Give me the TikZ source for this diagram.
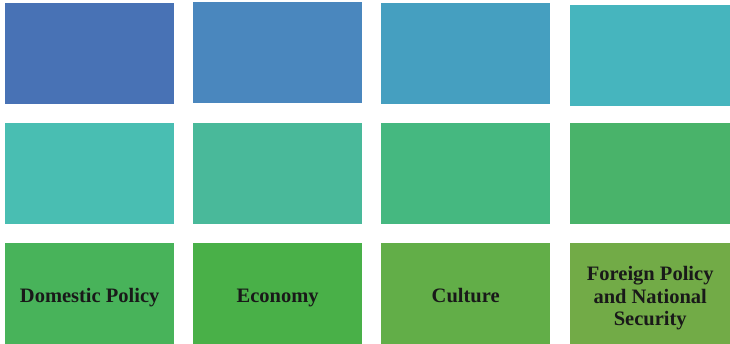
\documentclass[tikz,border=0pt]{standalone}
\usepackage{fontspec}
\setmainfont{Liberation Serif}
\begin{document}
\begin{tikzpicture}[x=1pt,y=-1pt,
  tile/.style={draw=none, anchor=north west, inner sep=0pt,
    minimum width=169pt, minimum height=101pt},
  caption/.style={inner sep=0pt, align=center, text=black!90,
    font=\fontsize{20.5}{22.5}\selectfont\bfseries}]
\useasboundingbox[fill=white] (0,0) rectangle (730,344);
\definecolor{cA}{HTML}{4872B5}
\definecolor{cB}{HTML}{4A87BE}
\definecolor{cC}{HTML}{459FC0}
\definecolor{cD}{HTML}{46B5BE}
\definecolor{cE}{HTML}{49BEB2}
\definecolor{cF}{HTML}{49B99A}
\definecolor{cG}{HTML}{45B880}
\definecolor{cH}{HTML}{49B36A}
\definecolor{cI}{HTML}{48B35A}
\definecolor{cJ}{HTML}{49B048}
\definecolor{cK}{HTML}{62AE48}
\definecolor{cL}{HTML}{72AB47}
% top row
\node[tile, fill=cA] (a1) at (5,3) {};
\node[tile, fill=cB] (a2) at (193,2) {};
\node[tile, fill=cC] (a3) at (381,3) {};
\node[tile, fill=cD, minimum width=160pt] (a4) at (570,5) {};
% middle row
\node[tile, fill=cE] (b1) at (5,123) {};
\node[tile, fill=cF] (b2) at (193,123) {};
\node[tile, fill=cG] (b3) at (381,123) {};
\node[tile, fill=cH, minimum width=160pt] (b4) at (570,123) {};
% bottom row
\node[tile, fill=cI] (c1) at (5,243) {};
\node[tile, fill=cJ] (c2) at (193,243) {};
\node[tile, fill=cK] (c3) at (381,243) {};
\node[tile, fill=cL, minimum width=160pt] (c4) at (570,243) {};
% labels of the bottom row, on a common baseline
\node[caption, anchor=base] (t1) at ([yshift=-8.5pt]c1.center) {Domestic Policy};
\node[caption, anchor=base] (t2) at ([yshift=-8.5pt]c2.center) {Economy};
\node[caption, anchor=base] (t3) at ([yshift=-8.5pt]c3.center) {Culture};
\node[caption] (t4) at ([yshift=-4.5pt]c4.center) {Foreign Policy\\and National\\Security};
\end{tikzpicture}
\end{document}
